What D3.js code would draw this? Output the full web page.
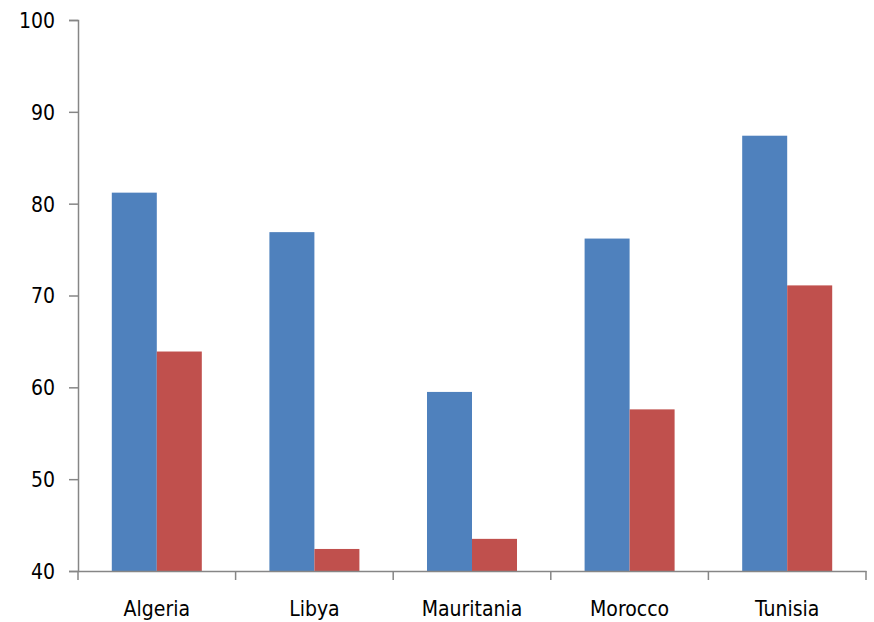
<!DOCTYPE html>
<html><head><meta charset="utf-8">
<script src="https://cdn.jsdelivr.net/npm/d3@7"></script>
<style>
html,body{margin:0;padding:0;background:#fff;}
text{font-family:"Liberation Sans Narrow","DejaVu Sans Condensed",sans-serif;fill:#000;}
</style></head>
<body><svg id="chart" width="874" height="622"></svg>
<script>
const categories = ["Algeria","Libya","Mauritania","Morocco","Tunisia"];
const seriesNames = ["Series 1","Series 2"];
const series1 = [81.2, 76.9, 59.5, 76.2, 87.4];
const series2 = [63.9, 42.4, 43.5, 57.6, 71.1];
const yTicks = [40,50,60,70,80,90,100];
const colors = ["#4F81BD","#C0504D"];

const svg = d3.select("#chart");
const mLeft = 78, mRight = 866, mTop = 20, mBottom = 571;

const x = d3.scaleBand().domain(categories).range([mLeft,mRight]).paddingInner(0).paddingOuter(0);
const inner = d3.scaleBand().domain(seriesNames).range([0,x.bandwidth()]).paddingInner(0).paddingOuter(0.751);
const y = d3.scaleLinear().domain([40,100]).range([mBottom,mTop]);

const data = categories.map((c,i)=>({cat:c, vals:[series1[i],series2[i]]}));

const g = svg.append("g");
g.selectAll("g.cat").data(data).join("g").attr("class","cat")
  .attr("transform",d=>`translate(${x(d.cat)},0)`)
  .selectAll("rect").data(d=>d.vals.map((v,j)=>({v,s:seriesNames[j],j})))
  .join("rect")
  .attr("x",d=>inner(d.s)).attr("width",inner.bandwidth())
  .attr("y",d=>y(d.v)).attr("height",d=>y(40)-y(d.v))
  .attr("fill",d=>colors[d.j]);

// y axis
const yAxis = d3.axisLeft(y).tickValues(yTicks).tickSize(9).tickPadding(14).tickFormat(d3.format("d"));
const ya = svg.append("g").attr("transform",`translate(${mLeft},0)`).call(yAxis);
ya.select(".domain").attr("stroke","#868686").attr("stroke-width",1.5);
ya.selectAll(".tick line").attr("stroke","#868686").attr("stroke-width",1.5);
ya.selectAll(".tick text").style("font-size","21px").attr("dy","0.35em");

// x axis
const xAxis = d3.axisBottom(x).tickSize(0).tickPadding(30);
const xa = svg.append("g").attr("transform",`translate(0,${mBottom})`).call(xAxis);
xa.select(".domain").attr("stroke","#868686").attr("stroke-width",1.5);
xa.selectAll(".tick text").style("font-size","21px");
// boundary tick marks
const bounds = categories.map(c=>x(c)).concat([x(categories[categories.length-1])+x.bandwidth()]);
xa.selectAll("line.bt").data(bounds).join("line").attr("class","bt")
  .attr("x1",d=>d).attr("x2",d=>d).attr("y1",0).attr("y2",9)
  .attr("stroke","#868686").attr("stroke-width",1.5);
</script></body></html>
